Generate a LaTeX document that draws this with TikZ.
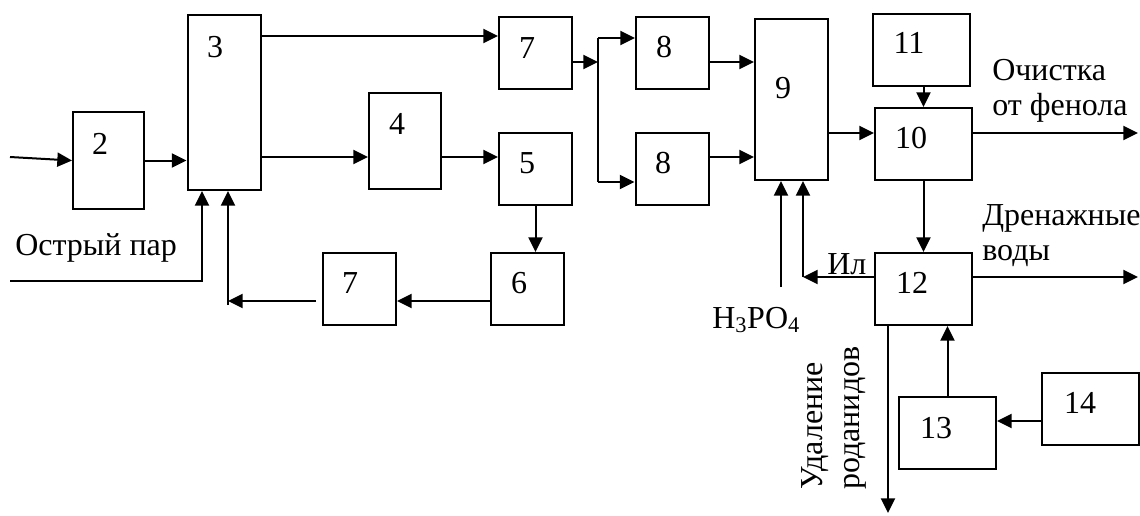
\documentclass[tikz,border=0pt]{standalone}
\usepackage{fontspec}
\setmainfont{Liberation Serif}
\usetikzlibrary{arrows.meta,calc}
\begin{document}
\begin{tikzpicture}[x=0.75pt, y=-0.75pt, >={Triangle[length=11pt,width=10.5pt]},
  blk/.style={draw, line width=1.5pt, minimum width=54.75pt, minimum height=54pt, inner sep=0pt},
  wblk/.style={blk, minimum width=72.75pt},
  num/.style={font=\fontsize{24}{28}\selectfont, inner sep=0pt},
  txt/.style={font=\fontsize{24}{28}\selectfont, inner sep=0pt, anchor=base west},
  arr/.style={->, line width=1.5pt}]
\useasboundingbox (0,0) rectangle (1140,515);
% blocks
\node[blk, minimum width=53.25pt, minimum height=72.75pt] (b2) at (108.5,160.5) {};
\node[blk, minimum height=131.25pt] (b3) at (224,102.5) {};
\node[blk, minimum width=54pt, minimum height=72pt] (b4) at (405,141) {};
\node[blk] (b7a) at (535.5,53) {};
\node[blk] (b5) at (535.5,169) {};
\node[blk] (b8a) at (672.5,53) {};
\node[blk] (b8b) at (672,169) {};
\node[blk, minimum height=120.75pt] (b9) at (791.5,99.5) {};
\node[wblk] (b10) at (923.5,144) {};
\node[wblk] (b11) at (921,49.5) {};
\node[wblk] (b12) at (923.5,289) {};
\node[wblk] (b13) at (947.5,433) {};
\node[wblk] (b14) at (1090.5,409) {};
\node[blk] (b7b) at (359.5,289) {};
\node[blk] (b6) at (527.5,289) {};
% numbers in the blocks
\foreach \t/\x/\y [count=\i] in {2/100/144, 3/215/47, 4/397/124, 7/527/48, 5/527/163,
    8/664/47, 8/663/163, 9/783/88, 10/911/138, 11/909/43, 12/912/283, 13/936/428,
    14/1080/403, 7/350/283, 6/519/283}
  \node[num] (n\i) at (\x,\y) {\t};
% points
\coordinate (in) at (10,157);
\coordinate (p3a) at ($(b3.north east)+(0,22)$);
\coordinate (p4) at ($(b4.west)+(0,16)$);
\coordinate (p7) at ($(b7a.east)+(0,9)$);
\coordinate (s1) at (598,38);
\coordinate (s2) at (598,182);
\coordinate (p8a) at ($(b8a.east)+(0,9)$);
\coordinate (p8b) at ($(b8b.east)+(0,-12)$);
\coordinate (p9) at ($(b10.west)+(0,-11)$);
\coordinate (o1) at (1138,133);
\coordinate (p12) at ($(b12.west)+(0,-12)$);
\coordinate (il) at (803,277);
\coordinate (h3) at (781,287);
\coordinate (o2) at (1138,277);
\coordinate (o3) at (888,513);
\coordinate (p14) at ($(b14.west)+(0,12)$);
\coordinate (p6) at ($(b6.west)+(0,12)$);
\coordinate (r1) at (228,301);
\coordinate (r2) at (228,305);
\coordinate (st) at (10,281);
\coordinate (st2) at (202,281);
% upper line
\draw[arr] (in) -- (b2.west);
\draw[arr] (b2.east) -- (b2.east -| b3.west);
\draw[arr] (p3a) -- (p3a -| b7a.west);
\draw[arr] (p4 -| b3.east) -- (p4);
\draw[arr] (p4 -| b4.east) -- (p4 -| b5.west);
\draw[arr] (p7) -- (p7 -| s1);
\draw[line width=1.5pt] (s1) -- (s2);
\draw[arr] (s1) -- (s1 -| b8a.west);
\draw[arr] (s2) -- (s2 -| b8b.west);
\draw[arr] (p8a) -- (p8a -| b9.west);
\draw[arr] (p8b) -- (p8b -| b9.west);
\draw[arr] (p9 -| b9.east) -- (p9);
\draw[arr] (b10.north |- b11.south) -- (b10.north);
\draw[arr] (b10.east |- o1) -- (o1);
% lower right
\draw[arr] (b10.south) -- (b12.north);
\draw[arr] (p12) -- (il);
\draw[arr] (il) -- (il |- b9.south);
\draw[arr] (h3) -- (h3 |- b9.south);
\draw[arr] (p12 -| b12.east) -- (o2);
\draw[arr] (b12.south -| o3) -- (o3);
\draw[arr] (b13.north) -- (b13.north |- b12.south);
\draw[arr] (p14) -- (p14 -| b13.east);
% return line
\draw[arr] (b5.south) -- (b5.south |- b6.north);
\draw[arr] (p6) -- (p6 -| b7b.east);
\draw[arr, shorten <=4.5pt] (p6 -| b7b.west) -- (r1);
\draw[arr] (r2) -- (r2 |- b3.south);
\draw[arr] (st) -- (st2) -- (st2 |- b3.south);
% texts
\node[txt] (tsteam) at (15,255) {Острый пар};
\node[txt] (tph1) at (992,80) {Очистка};
\node[txt] (tph2) at (992,115) {от фенола};
\node[txt] (tdr1) at (982,225) {Дренажные};
\node[txt] (tdr2) at (982,260) {воды};
\node[txt] (til) at (827,274) {Ил};
\node[txt] (th3) at (712,328) {H\textsubscript{3}PO\textsubscript{4}};
\node[txt, rotate=90] (tr1) at (822,490) {Удаление};
\node[txt, rotate=90] (tr2) at (859,490) {роданидов};
\end{tikzpicture}
\end{document}
